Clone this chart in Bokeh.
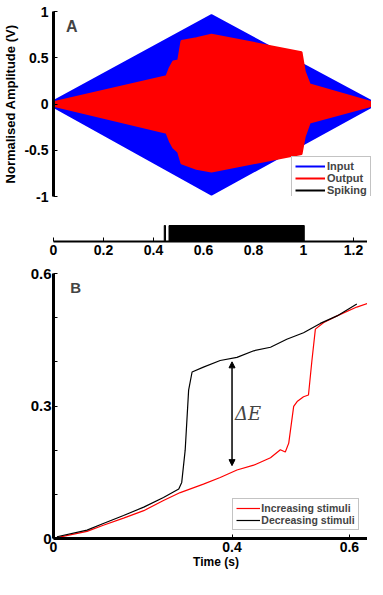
from bokeh.plotting import figure
from bokeh.layouts import column
from bokeh.models import (FixedTicker, Legend, LegendItem, Label, Arrow, NormalHead,
                          Range1d, PrintfTickFormatter)
from bokeh.embed import file_html
from bokeh.resources import INLINE

# ---------------- Panel A data (envelopes of input / output signals) ----------------
input_t = [0.0, 0.632, 1.272]
input_upper = [0.03, 0.96, 0.03]
input_lower = [-0.03, -0.98, -0.03]

output_t = [0.0, 0.452, 0.465, 0.479, 0.499, 0.512, 0.572, 0.632, 0.992, 1.005, 1.025, 1.272]
output_upper = [0.02, 0.30, 0.39, 0.46, 0.47, 0.68, 0.71, 0.75, 0.56, 0.35, 0.21, 0.02]
output_lower = [-0.02, -0.31, -0.40, -0.47, -0.52, -0.64, -0.70, -0.73, -0.54, -0.35, -0.20, -0.02]

# spiking intervals (s)
spike_start = [0.443, 0.462]
spike_end = [0.448, 1.003]

# ---------------- Panel B data ----------------
dec_t = [0.007, 0.068, 0.101, 0.142, 0.183, 0.223, 0.254, 0.260, 0.267, 0.274, 0.281,
         0.304, 0.338, 0.372, 0.406, 0.440, 0.473, 0.507, 0.541, 0.575, 0.615]
dec_v = [0.004, 0.019, 0.034, 0.052, 0.071, 0.093, 0.112, 0.127, 0.200, 0.336, 0.377,
         0.388, 0.403, 0.410, 0.425, 0.433, 0.451, 0.466, 0.487, 0.504, 0.531]

inc_t = [0.007, 0.068, 0.101, 0.142, 0.183, 0.223, 0.257, 0.304, 0.338, 0.372, 0.406,
         0.440, 0.460, 0.470, 0.477, 0.487, 0.494, 0.507, 0.517, 0.524, 0.531, 0.548,
         0.575, 0.615, 0.642, 0.659]
inc_v = [0.002, 0.016, 0.030, 0.046, 0.063, 0.086, 0.104, 0.123, 0.138, 0.155, 0.166,
         0.183, 0.201, 0.196, 0.216, 0.299, 0.310, 0.321, 0.325, 0.403, 0.474, 0.489,
         0.504, 0.524, 0.534, 0.534]

a_yticks = [-1, -0.5, 0, 0.5, 1]
strip_xticks = [0, 0.2, 0.4, 0.6, 0.8, 1, 1.2]
b_yticks = [0, 0.3, 0.6]
b_yminor = [0.1, 0.2, 0.4, 0.5]
b_xticks = [0, 0.362, 0.6]
b_xlabels = {0: "0", 0.362: "0.4", 0.6: "0.6"}

FONT = "Liberation Sans"
BLUE = "#0000FF"
RED = "#FF0000"
NAN = float("nan")


def style_axis(ax, width=3, size="14px"):
    ax.axis_line_width = width
    ax.axis_line_color = "black"
    ax.major_tick_in = 4
    ax.major_tick_out = 0
    ax.major_tick_line_width = 1
    ax.major_tick_line_color = "black"
    ax.minor_tick_line_color = None
    ax.major_label_text_font = FONT
    ax.major_label_text_font_style = "bold"
    ax.major_label_text_font_size = size
    ax.major_label_text_color = "black"
    ax.axis_label_text_color = "black"


# ---------------- Panel A ----------------
p1 = figure(frame_width=318, frame_height=185, x_range=Range1d(0, 1.272), y_range=Range1d(-1, 1),
            output_backend="svg", toolbar_location=None, x_axis_location=None,
            min_border_left=49, min_border_right=0, min_border_top=11, min_border_bottom=11)
p1.outline_line_color = None
p1.grid.visible = False
style_axis(p1.yaxis[0])
p1.yaxis.ticker = FixedTicker(ticks=a_yticks)
p1.yaxis.formatter = PrintfTickFormatter(format="%g")
p1.yaxis.major_label_standoff = 5
p1.yaxis.axis_label = "Normalised Amplitude (V)"
p1.yaxis.axis_label_text_font = FONT
p1.yaxis.axis_label_text_font_style = "bold"
p1.yaxis.axis_label_text_font_size = "13px"
p1.yaxis.axis_label_standoff = 3

p1.varea(x=input_t, y1=input_lower, y2=input_upper, fill_color=BLUE)
r_in = p1.line(input_t, input_upper, line_color=BLUE, line_width=2)
p1.line(input_t, input_lower, line_color=BLUE, line_width=2)
p1.varea(x=output_t, y1=output_lower, y2=output_upper, fill_color=RED)
r_out = p1.line(output_t, output_upper, line_color=RED, line_width=2)
p1.line(output_t, output_lower, line_color=RED, line_width=2)
# legend proxy for the spiking trace (drawn in the strip below)
r_spk = p1.line(x=spike_start, y=[NAN] * len(spike_start), line_color="black", line_width=2)

leg1 = Legend(items=[LegendItem(label="Input", renderers=[r_in]),
                     LegendItem(label="Output", renderers=[r_out]),
                     LegendItem(label="Spiking", renderers=[r_spk])],
              location=(238, -4), padding=3, spacing=0, margin=0,
              glyph_width=30, glyph_height=12, label_height=12, label_standoff=2,
              label_text_font=FONT, label_text_font_style="bold", label_text_font_size="11px",
              border_line_color="#888888", border_line_width=1, background_fill_alpha=1)
p1.add_layout(leg1, "center")
p1.add_layout(Label(x=0.05, y=0.93, text="A", text_font=FONT, text_font_style="bold",
                    text_font_size="16px", text_baseline="top"))

# ---------------- Spiking strip ----------------
p2 = figure(frame_width=318, frame_height=20, x_range=Range1d(0, 1.272), y_range=Range1d(0, 1.25),
            output_backend="svg", toolbar_location=None, y_axis_location=None,
            min_border_left=49, min_border_right=0, min_border_top=14, min_border_bottom=20)
p2.outline_line_color = None
p2.grid.visible = False
style_axis(p2.xaxis[0], width=2)
p2.xaxis.ticker = FixedTicker(ticks=strip_xticks)
p2.xaxis.formatter = PrintfTickFormatter(format="%g")
p2.xaxis.major_label_standoff = 3
p2.quad(left=spike_start, right=spike_end, bottom=0, top=1, fill_color="black", line_color="black")

# ---------------- Panel B ----------------
p3 = figure(frame_width=325, frame_height=265, x_range=Range1d(0, 0.659), y_range=Range1d(0, 0.6),
            output_backend="svg", toolbar_location=None,
            min_border_left=42, min_border_right=0, min_border_top=12, min_border_bottom=30)
p3.outline_line_color = None
p3.grid.visible = False
style_axis(p3.xaxis[0])
style_axis(p3.yaxis[0], size="15px")
p3.yaxis.ticker = FixedTicker(ticks=b_yticks, minor_ticks=b_yminor)
p3.yaxis.formatter = PrintfTickFormatter(format="%g")
p3.yaxis.minor_tick_line_color = "black"
p3.yaxis.minor_tick_in = 4
p3.yaxis.minor_tick_out = 0
p3.yaxis.major_label_standoff = 2
p3.xaxis.ticker = FixedTicker(ticks=b_xticks)
p3.xaxis.major_label_overrides = b_xlabels
p3.xaxis.major_label_standoff = 3
p3.xaxis.axis_label = "Time (s)"
p3.xaxis.axis_label_text_font = FONT
p3.xaxis.axis_label_text_font_style = "bold"
p3.xaxis.axis_label_text_font_size = "12px"
p3.xaxis.axis_label_standoff = 0

r_inc = p3.line(inc_t, inc_v, line_color=RED, line_width=1.2)
r_dec = p3.line(dec_t, dec_v, line_color="black", line_width=1.2)

p3.add_layout(Arrow(x_start=0.362, y_start=0.165, x_end=0.362, y_end=0.40,
                    line_width=1.5, line_color="black",
                    start=NormalHead(size=6, fill_color="black", line_color="black"),
                    end=NormalHead(size=6, fill_color="black", line_color="black")))
p3.add_layout(Label(x=0.368, y=0.284, text="ΔE", text_font="DejaVu Serif",
                    text_font_style="italic", text_font_size="18px", text_baseline="middle"))
p3.add_layout(Label(x=0.034, y=0.587, text="B", text_font=FONT, text_font_style="bold",
                    text_font_size="15px", text_baseline="top"))

leg3 = Legend(items=[LegendItem(label="Increasing stimuli", renderers=[r_inc]),
                     LegendItem(label="Decreasing stimuli", renderers=[r_dec])],
              location=(201, 8), padding=3, spacing=0, margin=0,
              glyph_width=24, glyph_height=12, label_height=12, label_standoff=1,
              label_text_font=FONT, label_text_font_style="bold", label_text_font_size="10.5px",
              border_line_color="#888888", border_line_width=1, background_fill_alpha=1)
p3.add_layout(leg3, "center")

layout = column(p1, p2, p3, spacing=0)
open("out.html", "w").write(file_html(layout, INLINE))
